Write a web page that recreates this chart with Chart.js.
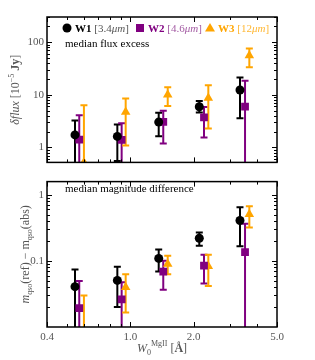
<!DOCTYPE html>
<html>
<head>
<meta charset="utf-8">
<script src="https://cdn.jsdelivr.net/npm/chart.js@4.4.1/dist/chart.umd.min.js"></script>
<style>
  body { margin: 0; background: #fff; }
  #wrap { position: relative; width: 315px; height: 360px; }
  canvas { position: absolute; left: 0; }
</style>
</head>
<body>
<div id="wrap">
  <canvas id="topChart" width="315" height="172" style="top:0"></canvas>
  <canvas id="botChart" width="315" height="188" style="top:172px"></canvas>
</div>
<script>
// equivalent width bins (x positions, slightly offset per band)
const w1X = [0.544, 0.866, 1.364, 2.13, 3.33];
const w2X = [0.570, 0.908, 1.434, 2.243, 3.52];
const w3X = [0.600, 0.949, 1.506, 2.352, 3.69];

// median flux excess [1e-5 Jy]
const w1Flux   = [1.73, 1.62, 3.03, 5.93, 12.3];
const w1FluxLo = [0.3, 0.55, 1.64, 4.63, 3.58];
const w1FluxHi = [3.25, 2.72, 4.58, 7.6, 21.2];
const w2Flux   = [1.41, 1.39, 3.07, 3.73, 5.93];
const w2FluxLo = [0.3, 0.3, 1.19, 1.55, 0.3];
const w2FluxHi = [4.1, 2.87, 4.97, 5.86, 18.5];
const w3Flux   = [0.52, 4.71, 10.0, 8.7, 55.6];
const w3FluxLo = [0.1, 1.09, 6.1, 2.28, 33.3];
const w3FluxHi = [6.36, 8.48, 13.9, 15.1, 76];

// median magnitude difference
const w1Mag   = [0.0407, 0.0507, 0.109, 0.22, 0.407];
const w1MagLo = [0.005, 0.02, 0.069, 0.169, 0.166];
const w1MagHi = [0.0743, 0.0813, 0.148, 0.268, 0.645];
const w2Mag   = [0.0193, 0.0262, 0.069, 0.085, 0.136];
const w2MagLo = [0.005, 0.005, 0.0365, 0.0454, 0.005];
const w2MagHi = [0.0495, 0.0474, 0.1, 0.124, 0.365];
const w3Mag   = [0.008, 0.0398, 0.0896, 0.083, 0.507];
const w3MagLo = [0.004, 0.0166, 0.063, 0.0416, 0.32];
const w3MagHi = [0.0299, 0.063, 0.119, 0.124, 0.667];

// ticks
const wTicks = [0.4, 1, 2, 5];
const wTickLabels = ['0.4', '1.0', '2.0', '5.0'];
const wMinor = [0.5, 0.6, 0.7, 0.8, 0.9, 3, 4];
const fluxTicks = [1, 10, 100];
const fluxTickLabels = ['1', '10', '100'];
const fluxMinor = [0.6, 0.7, 0.8, 0.9, 2, 3, 4, 5, 6, 7, 8, 9, 20, 30, 40, 50, 60, 70, 80, 90, 200, 300];
const magTicks = [0.1, 1];
const magTickLabels = ['0.1', '1'];
const magMinor = [0.02, 0.03, 0.04, 0.05, 0.06, 0.07, 0.08, 0.09, 0.2, 0.3, 0.4, 0.5, 0.6, 0.7, 0.8, 0.9];

const bands = [
  { name: 'W1', wave: '[3.4', color: '#000000', soft: '#555555', style: 'circle', r: 4.5 },
  { name: 'W2', wave: '[4.6', color: '#800080', soft: '#a35ba3', style: 'rect', r: 5.5 },
  { name: 'W3', wave: '[12', color: '#ffa500', soft: '#ffb733', style: 'triangle', r: 5.5 }
];

const SERIF = '"Liberation Serif", "DejaVu Serif", serif';
const GREY = '#555555';

function points(xs, ys, lo, hi) {
  return xs.map((x, i) => ({ x: x, y: ys[i], lo: lo[i], hi: hi[i] }));
}

function makeSets(rows) {
  return rows.map((d, i) => ({
    data: d,
    backgroundColor: bands[i].color,
    borderColor: bands[i].color,
    pointStyle: bands[i].style,
    pointRadius: bands[i].r,
    pointHoverRadius: bands[i].r,
    borderWidth: 0
  }));
}

// draw a list of text parts side by side; returns width
function drawParts(ctx, parts, x, y, center) {
  let total = 0;
  parts.forEach(p => { ctx.font = p.font; total += ctx.measureText(p.t).width; });
  let cx = center ? x - total / 2 : x;
  parts.forEach(p => {
    ctx.font = p.font;
    ctx.fillStyle = p.color || GREY;
    ctx.fillText(p.t, cx, y + (p.dy || 0));
    cx += ctx.measureText(p.t).width;
  });
  return total;
}

const errorBars = {
  id: 'errorBars',
  beforeDatasetsDraw(chart) {
    const { ctx, chartArea: a, scales } = chart;
    ctx.save();
    ctx.beginPath();
    ctx.rect(a.left, a.top, a.width, a.height);
    ctx.clip();
    ctx.lineWidth = 2;
    chart.data.datasets.forEach(ds => {
      ctx.strokeStyle = ds.backgroundColor;
      ds.data.forEach(p => {
        const x = scales.x.getPixelForValue(p.x);
        const y0 = scales.y.getPixelForValue(p.lo);
        const y1 = scales.y.getPixelForValue(p.hi);
        ctx.beginPath();
        ctx.moveTo(x, y0); ctx.lineTo(x, y1);
        ctx.moveTo(x - 3.5, y0); ctx.lineTo(x + 3.5, y0);
        ctx.moveTo(x - 3.5, y1); ctx.lineTo(x + 3.5, y1);
        ctx.stroke();
      });
    });
    ctx.restore();
  }
};

const frameTicks = {
  id: 'frameTicks',
  afterDatasetsDraw(chart, args, opts) {
    const { ctx, chartArea: a, scales } = chart;
    ctx.save();
    ctx.strokeStyle = '#000';
    ctx.lineWidth = 1;
    const tick = (x0, y0, x1, y1) => { ctx.beginPath(); ctx.moveTo(x0, y0); ctx.lineTo(x1, y1); ctx.stroke(); };
    wTicks.concat(wMinor).forEach(v => {
      const len = wTicks.includes(v) ? 5 : 3;
      const x = Math.round(scales.x.getPixelForValue(v)) + 0.5;
      tick(x, a.bottom, x, a.bottom - len);
      tick(x, a.top, x, a.top + len);
    });
    opts.major.concat(opts.minor).forEach(v => {
      if (v < scales.y.min || v > scales.y.max) return;
      const len = opts.major.includes(v) ? 5 : 3;
      const y = Math.round(scales.y.getPixelForValue(v)) + 0.5;
      tick(a.left, y, a.left + len, y);
      tick(a.right, y, a.right - len, y);
    });
    ctx.lineWidth = 1.5;
    ctx.strokeRect(a.left, a.top, a.width, a.height);
    ctx.restore();
  }
};

const labels = {
  id: 'labels',
  afterDraw(chart, args, opts) {
    const ctx = chart.ctx;
    ctx.save();
    ctx.textBaseline = 'alphabetic';
    // panel caption
    ctx.font = '11px ' + SERIF;
    ctx.fillStyle = '#000';
    ctx.fillText(opts.caption, 65, opts.captionY);
    // rotated y title
    ctx.save();
    ctx.translate(opts.yTitleX, (chart.chartArea.top + chart.chartArea.bottom) / 2);
    ctx.rotate(-Math.PI / 2);
    drawParts(ctx, opts.yTitle, 0, 0, true);
    ctx.restore();
    if (opts.legend) {
      const y = 28;
      const xs = [67, 140, 210];
      bands.forEach((b, i) => {
        ctx.fillStyle = b.color;
        const x = xs[i];
        ctx.beginPath();
        if (b.style === 'circle') ctx.arc(x, y, 4.5, 0, Math.PI * 2);
        else if (b.style === 'rect') ctx.rect(x - 4, y - 4, 8, 8);
        else { ctx.moveTo(x, y - 5); ctx.lineTo(x + 5, y + 3.5); ctx.lineTo(x - 5, y + 3.5); ctx.closePath(); }
        ctx.fill();
        drawParts(ctx, [
          { t: b.name + ' ', font: 'bold 11px ' + SERIF, color: b.color },
          { t: b.wave, font: '11px ' + SERIF, color: b.soft },
          { t: 'μm', font: 'italic 11px ' + SERIF, color: b.soft },
          { t: ']', font: '11px ' + SERIF, color: b.soft }
        ], x + 8, y + 4, false);
      });
    }
    if (opts.xTitle) {
      drawParts(ctx, opts.xTitle, 162, 180, true);
    }
    ctx.restore();
  }
};

function xScale(show) {
  return {
    type: 'logarithmic', min: 0.4, max: 5,
    display: show,
    afterBuildTicks: s => { s.ticks = wTicks.map(v => ({ value: v })); },
    afterFit: s => { if (show) s.height = 33; },
    grid: { display: false, drawTicks: false },
    border: { display: false },
    ticks: {
      autoSkip: false, maxRotation: 0, padding: 4, color: GREY,
      font: { family: SERIF, size: 11 },
      callback: v => wTickLabels[wTicks.indexOf(v)]
    }
  };
}

function yScale(min, max, ticks, tickLabels) {
  return {
    type: 'logarithmic', min: min, max: max,
    afterBuildTicks: s => { s.ticks = ticks.map(v => ({ value: v })); },
    afterFit: s => { s.width = 47; },
    grid: { display: false, drawTicks: false },
    border: { display: false },
    ticks: {
      padding: 3, color: GREY,
      font: { family: SERIF, size: 11 },
      callback: v => tickLabels[ticks.indexOf(v)]
    }
  };
}

const common = {
  responsive: false,
  animation: false,
  events: [],
  plugins: { legend: { display: false }, tooltip: { enabled: false } }
};

new Chart(document.getElementById('topChart'), {
  type: 'scatter',
  data: {
    datasets: makeSets([
      points(w1X, w1Flux, w1FluxLo, w1FluxHi),
      points(w2X, w2Flux, w2FluxLo, w2FluxHi),
      points(w3X, w3Flux, w3FluxLo, w3FluxHi)
    ])
  },
  options: Object.assign({}, common, {
    layout: { padding: { top: 17, right: 38, bottom: 0, left: 0 } },
    scales: { x: xScale(false), y: yScale(0.52, 300, fluxTicks, fluxTickLabels) },
    plugins: Object.assign({}, common.plugins, {
      frameTicks: { major: fluxTicks, minor: fluxMinor },
      labels: {
        caption: 'median flux excess', captionY: 47, legend: true, yTitleX: 19,
        yTitle: [
          { t: 'δflux', font: 'italic 12px ' + SERIF },
          { t: ' [10', font: '12px ' + SERIF },
          { t: '−5', font: '8px ' + SERIF, dy: -5 },
          { t: ' ', font: '12px ' + SERIF },
          { t: 'Jy', font: 'bold 12px ' + SERIF },
          { t: ']', font: '12px ' + SERIF }
        ]
      }
    })
  }),
  plugins: [errorBars, frameTicks, labels]
});

new Chart(document.getElementById('botChart'), {
  type: 'scatter',
  data: {
    datasets: makeSets([
      points(w1X, w1Mag, w1MagLo, w1MagHi),
      points(w2X, w2Mag, w2MagLo, w2MagHi),
      points(w3X, w3Mag, w3MagLo, w3MagHi)
    ])
  },
  options: Object.assign({}, common, {
    layout: { padding: { top: 0, right: 38, bottom: 0, left: 0 } },
    scales: { x: xScale(true), y: yScale(0.01, 1.58, magTicks, magTickLabels) },
    plugins: Object.assign({}, common.plugins, {
      frameTicks: { major: magTicks, minor: magMinor },
      labels: {
        caption: 'median magnitude difference', captionY: 20, legend: false, yTitleX: 29,
        yTitle: [
          { t: 'm', font: 'italic 12px ' + SERIF },
          { t: 'qso', font: '8px ' + SERIF, dy: 3 },
          { t: '(ref) − m', font: '12px ' + SERIF },
          { t: 'qso', font: '8px ' + SERIF, dy: 3 },
          { t: '(abs)', font: '12px ' + SERIF }
        ],
        xTitle: [
          { t: 'W', font: 'italic 12px ' + SERIF },
          { t: '0', font: '8px ' + SERIF, dy: 3 },
          { t: 'MgII', font: '8px ' + SERIF, dy: -6 },
          { t: ' [', font: '12px ' + SERIF },
          { t: 'Å', font: 'bold 12px ' + SERIF },
          { t: ']', font: '12px ' + SERIF }
        ]
      }
    })
  }),
  plugins: [errorBars, frameTicks, labels]
});
</script>
</body>
</html>
